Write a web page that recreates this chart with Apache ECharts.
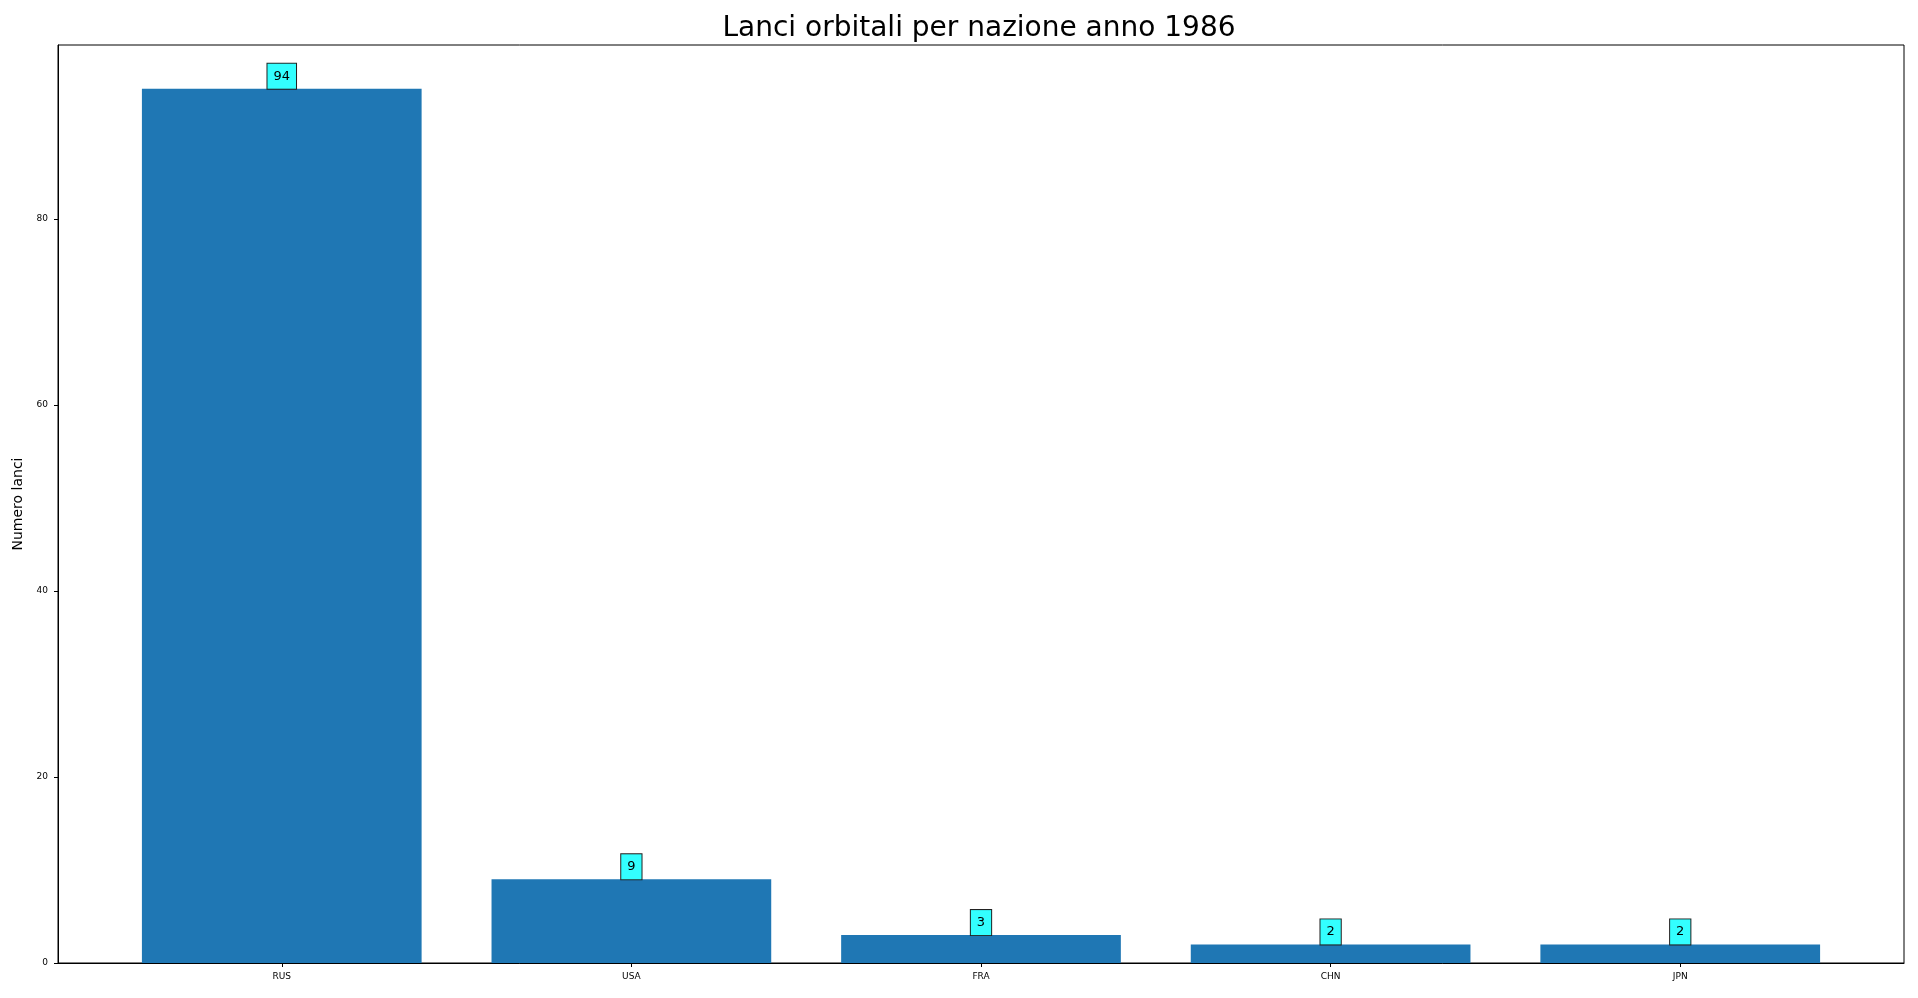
<!DOCTYPE html>
<html>
<head>
<meta charset="utf-8">
<script src="https://cdn.jsdelivr.net/npm/echarts@6/dist/echarts.min.js"></script>
<style>html,body{margin:0;padding:0;background:#fff;}#c{width:1918px;height:998px;}</style>
</head>
<body>
<div id="c"></div>
<script>
const categories = ['RUS', 'USA', 'FRA', 'CHN', 'JPN'];
const launches = [94, 9, 3, 2, 2];
const yTicks = [0, 20, 40, 60, 80];
const titleText = 'Lanci orbitali per nazione anno 1986';
const yName = 'Numero lanci';

const chart = echarts.init(document.getElementById('c'), null, {renderer: 'canvas'});
const font = 'DejaVu Sans';
const xIdx = categories.map((c, i) => i);
const option = {
  animation: false,
  backgroundColor: '#fff',
  title: {
    text: titleText, left: 974, textAlign: 'center', top: 10,
    textStyle: {fontFamily: font, fontSize: 28, fontWeight: 'normal', color: '#000'}
  },
  grid: {left: 58, right: 14, top: 45, bottom: 35, show: true, borderColor: '#000', borderWidth: 1, backgroundColor: 'transparent'},
  xAxis: {
    type: 'value', min: -0.64, max: 4.64,
    splitLine: {show: false},
    axisLine: {show: true, onZero: false, lineStyle: {color: '#000', width: 1}},
    axisTick: {show: true, length: 4, customValues: xIdx, lineStyle: {color: '#000'}},
    axisLabel: {customValues: xIdx, formatter: v => categories[Math.round(v)] || '', fontFamily: font, fontSize: 9, color: '#000', margin: 9}
  },
  yAxis: {
    type: 'value', min: 0, max: 94 * 1.05,
    name: yName, nameLocation: 'middle', nameGap: 32,
    nameTextStyle: {fontFamily: font, fontSize: 14, color: '#000'},
    splitLine: {show: false},
    axisLine: {show: true, onZero: false, lineStyle: {color: '#000', width: 1}},
    axisTick: {show: true, length: 4, customValues: yTicks, lineStyle: {color: '#000'}},
    axisLabel: {customValues: yTicks, fontFamily: font, fontSize: 9, color: '#000', margin: 10}
  },
  series: [{
    type: 'bar',
    data: launches.map((v, i) => [i, v]),
    barWidth: '80%',
    itemStyle: {color: '#1f77b4'},
    label: {
      show: true, position: 'top', distance: 0,
      formatter: p => String(p.value[1]),
      fontFamily: font, fontSize: 13, color: '#000', lineHeight: 15,
      backgroundColor: '#33ffff', borderColor: '#222', borderWidth: 1,
      padding: [5, 6, 5, 6]
    }
  }]
};
chart.setOption(option);
</script>
</body>
</html>
